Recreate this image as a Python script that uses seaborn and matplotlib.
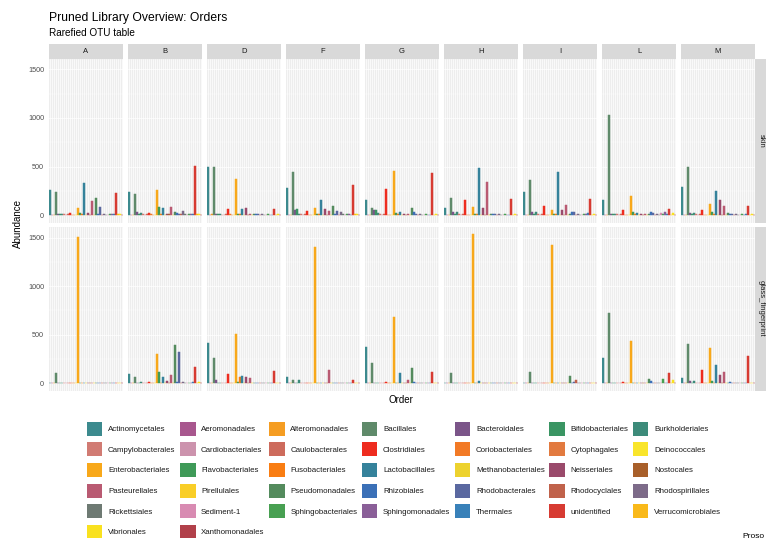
import numpy as np
import pandas as pd
import matplotlib
matplotlib.use("Agg")
import matplotlib.pyplot as plt
import seaborn as sns
from matplotlib.patches import Patch

# ---------------- data ----------------
orders = ["Actinomycetales", "Aeromonadales", "Alteromonadales", "Bacillales", "Bacteroidales",
          "Bifidobacteriales", "Burkholderiales", "Campylobacterales", "Cardiobacteriales",
          "Caulobacterales", "Clostridiales", "Coriobacteriales", "Cytophagales", "Deinococcales",
          "Enterobacteriales", "Flavobacteriales", "Fusobacteriales", "Lactobacillales",
          "Methanobacteriales", "Neisseriales", "Nostocales", "Pasteurellales", "Pirellulales",
          "Pseudomonadales", "Rhizobiales", "Rhodobacterales", "Rhodocyclales", "Rhodospirillales",
          "Rickettsiales", "Sediment-1", "Sphingobacteriales", "Sphingomonadales", "Thermales",
          "unidentified", "Verrucomicrobiales", "Vibrionales", "Xanthomonadales"]

order_colors = ["#3C8A8E", "#A8578E", "#F59D22", "#5F8A6A", "#7B5589",
                "#3A9563", "#3D8B7A", "#D17B73", "#CC93AD",
                "#CD6B5C", "#EE2C1F", "#F27A26", "#E27A3F", "#F9E52B",
                "#F8A81A", "#3F9A58", "#F97D12", "#35829B",
                "#EDD22E", "#9A4A6B", "#A85F2A", "#B95A72", "#F9CE27",
                "#548B5D", "#3B70B7", "#5A68A0", "#C0624B", "#7D6B89",
                "#6E7A73", "#D88BB2", "#48A052", "#8A5F98", "#3981B9",
                "#D73B32", "#F9B91A", "#F9E11F", "#B1404A"]

locations = ["A", "B", "D", "F", "G", "H", "I", "L", "M"]
sample_types = ["skin", "glass_fingerprint"]

skin_A = [255, 3, 5, 240, 8, 6, 12, 8, 3, 15,
          20, 5, 4, 2, 70, 20, 6, 335, 3, 20,
          4, 145, 3, 175, 10, 85, 5, 6, 5, 3,
          10, 12, 8, 230, 6, 10, 3]
skin_B = [235, 3, 5, 215, 30, 8, 20, 10, 4, 8,
          22, 6, 4, 2, 255, 80, 8, 70, 4, 12,
          6, 80, 4, 30, 20, 10, 6, 40, 6, 4,
          8, 15, 6, 505, 6, 10, 4]
skin_D = [500, 3, 6, 490, 15, 6, 8, 4, 3, 6,
          58, 6, 4, 2, 375, 10, 6, 60, 4, 72,
          4, 15, 3, 8, 10, 10, 4, 6, 4, 3,
          6, 5, 4, 62, 5, 8, 3]
skin_F = [275, 3, 5, 440, 50, 60, 10, 6, 3, 8,
          40, 5, 4, 2, 75, 15, 6, 155, 4, 65,
          4, 45, 3, 90, 10, 40, 5, 30, 6, 3,
          6, 8, 5, 308, 6, 10, 3]
skin_G = [155, 3, 5, 70, 55, 50, 20, 6, 3, 8,
          270, 5, 4, 2, 455, 25, 6, 27, 4, 10,
          4, 15, 3, 68, 34, 10, 5, 6, 4, 3,
          6, 5, 4, 438, 5, 10, 3]
skin_H = [70, 3, 5, 180, 34, 8, 34, 6, 3, 8,
          160, 5, 4, 2, 85, 15, 6, 482, 4, 68,
          4, 340, 3, 10, 15, 15, 5, 6, 4, 3,
          6, 5, 4, 165, 5, 10, 3]
skin_I = [240, 3, 5, 363, 27, 8, 27, 6, 3, 8,
          90, 5, 4, 2, 55, 15, 6, 448, 4, 48,
          4, 106, 3, 12, 35, 35, 5, 8, 4, 3,
          6, 10, 20, 165, 5, 10, 3]
skin_L = [155, 3, 5, 1030, 15, 8, 10, 6, 3, 8,
          55, 5, 4, 2, 192, 30, 6, 17, 4, 10,
          4, 10, 3, 8, 27, 25, 5, 8, 4, 24,
          6, 27, 6, 65, 5, 20, 3]
skin_M = [290, 3, 5, 490, 25, 8, 25, 6, 3, 8,
          50, 5, 4, 2, 116, 35, 6, 246, 4, 154,
          4, 92, 3, 25, 15, 10, 5, 6, 4, 3,
          6, 5, 15, 92, 5, 10, 3]

glass_A = [5, 2, 3, 110, 4, 3, 4, 3, 2, 5,
           6, 3, 2, 1, 1505, 3, 3, 5, 2, 3,
           2, 6, 2, 4, 5, 4, 3, 4, 3, 2,
           3, 3, 3, 4, 3, 6, 2]
glass_B = [100, 2, 3, 65, 8, 4, 17, 4, 2, 6,
           14, 3, 2, 1, 305, 115, 5, 62, 3, 20,
           4, 82, 2, 395, 10, 320, 4, 10, 4, 2,
           3, 6, 10, 165, 4, 15, 2]
glass_D = [415, 2, 3, 260, 35, 4, 8, 4, 2, 5,
           100, 3, 2, 1, 510, 10, 60, 75, 3, 65,
           3, 55, 2, 6, 5, 4, 3, 5, 3, 2,
           3, 3, 3, 125, 3, 6, 2]
glass_F = [60, 2, 3, 35, 4, 3, 30, 3, 2, 4,
           6, 3, 2, 1, 1400, 3, 3, 5, 2, 3,
           2, 133, 2, 4, 5, 4, 3, 4, 3, 2,
           3, 3, 3, 33, 3, 6, 2]
glass_G = [370, 2, 3, 210, 5, 3, 6, 3, 2, 5,
           15, 3, 2, 1, 685, 4, 3, 105, 2, 5,
           2, 30, 2, 155, 17, 4, 3, 4, 3, 2,
           3, 3, 3, 115, 3, 6, 2]
glass_H = [6, 2, 3, 110, 4, 3, 5, 3, 2, 4,
           5, 3, 2, 1, 1535, 3, 3, 20, 2, 3,
           2, 5, 2, 4, 5, 4, 3, 4, 3, 2,
           3, 3, 3, 5, 3, 6, 2]
glass_I = [8, 2, 3, 112, 4, 3, 5, 3, 2, 4,
           5, 3, 2, 1, 1420, 3, 3, 6, 2, 4,
           2, 6, 2, 72, 5, 10, 30, 4, 3, 2,
           3, 3, 3, 5, 3, 6, 2]
glass_L = [260, 2, 3, 728, 4, 3, 5, 3, 2, 4,
           15, 3, 2, 1, 435, 4, 3, 6, 2, 4,
           2, 5, 2, 45, 20, 8, 3, 4, 3, 2,
           48, 3, 3, 110, 3, 38, 2]
glass_M = [50, 2, 3, 410, 25, 3, 24, 3, 2, 4,
           135, 3, 2, 1, 362, 24, 3, 188, 2, 85,
           2, 115, 2, 8, 17, 8, 3, 4, 3, 2,
           3, 3, 8, 280, 3, 6, 2]

y_ticks = [0, 500, 1000, 1500]
y_minor = [250, 750, 1250]

skin = dict(zip(locations, [skin_A, skin_B, skin_D, skin_F, skin_G, skin_H, skin_I, skin_L, skin_M]))
glass = dict(zip(locations, [glass_A, glass_B, glass_D, glass_F, glass_G, glass_H, glass_I, glass_L, glass_M]))

rows = []
for stype, d in [("skin", skin), ("glass_fingerprint", glass)]:
    for loc in locations:
        for o, v in zip(orders, d[loc]):
            rows.append((stype, loc, o, v))
df = pd.DataFrame(rows, columns=["Type", "Location", "Order", "Abundance"])

# ---------------- style ----------------
sns.set_theme(style="white")
plt.rcParams['font.family'] = ['Liberation Sans', 'DejaVu Sans']

W, H = 766, 538
fig = plt.figure(figsize=(W / 100, H / 100), dpi=100)


def rect(x0, y0, x1, y1):
    return [x0 / W, 1 - y1 / H, (x1 - x0) / W, (y1 - y0) / H]


palette = dict(zip(orders, order_colors))
row_y = [(58.5, 222.5), (226.7, 390.8)]
YMIN, YMAX = -77, 1613
PW, PSTEP, PX0 = 74, 79, 49
STRIP_BG = "#D9D9D9"

for r, stype in enumerate(sample_types):
    y0, y1 = row_y[r]
    for c, loc in enumerate(locations):
        x0 = PX0 + PSTEP * c
        ax = fig.add_axes(rect(x0, y0, x0 + PW, y1))
        sub = df[(df.Type == stype) & (df.Location == loc)]
        sns.barplot(data=sub, x="Order", y="Abundance", hue="Order", order=orders,
                    hue_order=orders, palette=palette, saturation=1, width=0.9,
                    dodge=False, legend=False, errorbar=None, linewidth=0, ax=ax)
        for p in ax.patches:
            p.set_edgecolor(p.get_facecolor())
            p.set_linewidth(0.35)
        ax.set_facecolor("#EDEDED")
        ax.set_xlim(-0.6, len(orders) - 0.4)
        ax.set_ylim(YMIN, YMAX)
        ax.set_xticks(range(len(orders)))
        ax.set_yticks(y_ticks)
        ax.set_yticks(y_minor, minor=True)
        ax.grid(True, which='major', color='white', lw=0.5)
        ax.grid(True, which='minor', axis='y', color='white', lw=0.3)
        ax.set_axisbelow(True)
        for s in ax.spines.values():
            s.set_visible(False)
        ax.tick_params(axis='x', length=0, labelbottom=False)
        ax.tick_params(which='minor', length=0)
        ax.set_xlabel("")
        ax.set_ylabel("")
        if c == 0:
            ax.set_yticklabels([str(t) for t in y_ticks])
            ax.tick_params(axis='y', length=2, width=0.5, color='#333333',
                           labelsize=5.2, labelcolor='#4D4D4D', pad=1.5)
        else:
            ax.tick_params(axis='y', length=0, labelleft=False)
        if r == 0:
            sax = fig.add_axes(rect(x0, 44, x0 + PW, 58.5))
            sax.set_facecolor(STRIP_BG)
            sax.set_xticks([]); sax.set_yticks([])
            for s in sax.spines.values():
                s.set_visible(False)
            sax.text(0.5, 0.5, loc, ha='center', va='center', fontsize=5.5,
                     color='#1A1A1A', transform=sax.transAxes)
    rax = fig.add_axes(rect(755, y0, 768, y1))
    rax.set_facecolor(STRIP_BG)
    rax.set_xticks([]); rax.set_yticks([])
    for s in rax.spines.values():
        s.set_visible(False)
    rax.text(0.45, 0.5, stype, ha='center', va='center', fontsize=5.5, rotation=-90,
             color='#1A1A1A', transform=rax.transAxes)

fig.text(49 / W, 1 - 18 / H, "Pruned Library Overview: Orders", fontsize=8.7,
         va='center', ha='left', color='#000000')
fig.text(49 / W, 1 - 33.5 / H, "Rarefied OTU table", fontsize=7.2,
         va='center', ha='left', color='#000000')
fig.text(18 / W, 1 - 224 / H, "Abundance", fontsize=7, rotation=90,
         va='center', ha='center', color='#000000')
fig.text(401 / W, 1 - 400 / H, "Order", fontsize=7, va='center', ha='center', color='#000000')
fig.text(742 / W, 1 - 536 / H, "Proso", fontsize=6, va='center', ha='left', color='#000000')

# legend: row-major fill, 7 columns
ncol = 7
nrow = int(np.ceil(len(orders) / ncol))
handles, labels = [], []
for j in range(ncol):
    for i in range(nrow):
        idx = i * ncol + j
        if idx < len(orders):
            handles.append(Patch(facecolor=order_colors[idx], edgecolor='none'))
            labels.append(orders[idx])
leg = fig.legend(handles, labels, ncol=ncol, loc='upper left',
                 bbox_to_anchor=(87 / W, 1 - 421.5 / H), frameon=False,
                 fontsize=5.7, handlelength=1.95, handleheight=2.35,
                 labelspacing=0.84, columnspacing=0.6, handletextpad=0.7,
                 borderpad=0, borderaxespad=0)
for t in leg.get_texts():
    t.set_color('#1A1A1A')

fig.savefig("out.png", dpi=100)
